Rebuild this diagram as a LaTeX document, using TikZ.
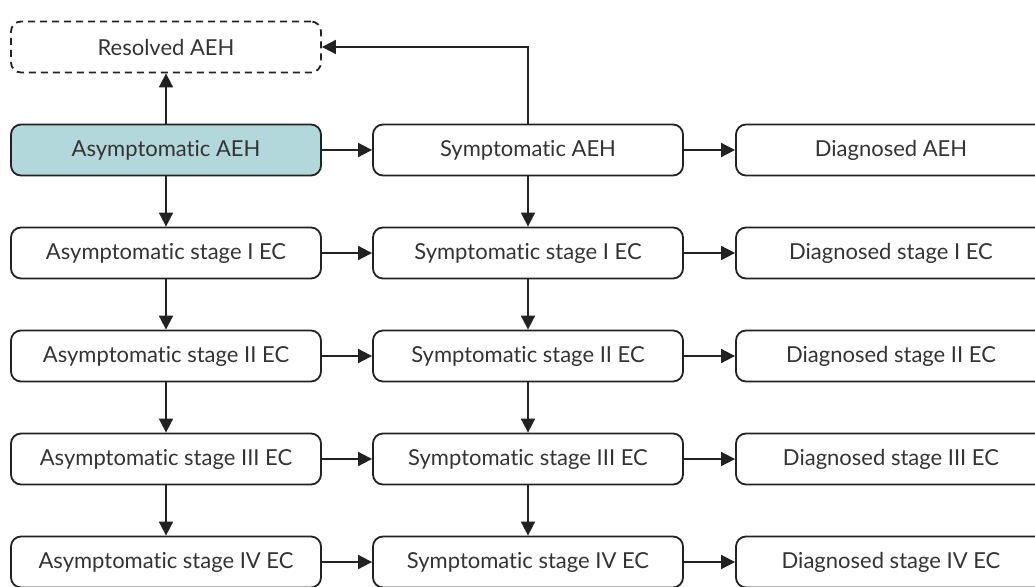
\documentclass[tikz,border=0pt]{standalone}
\usepackage{fontspec}
\setmainfont{Lato}[Ligatures={NoCommon,NoDiscretionary}]
\usetikzlibrary{arrows.meta}
\definecolor{edge}{HTML}{222222}
\definecolor{txt}{HTML}{333333}
\definecolor{teal}{HTML}{B3D8DC}
\begin{document}
\begin{tikzpicture}[x=1pt,y=-1pt,
  box/.style={draw=edge, rounded corners=10pt, line width=1.8pt, minimum width=310pt,
    minimum height=51pt, inner sep=0pt, text=txt, font=\fontsize{22}{26}\selectfont},
  arr/.style={draw=edge, line width=1.8pt, -{Triangle[length=14pt,width=14pt]}}]
\useasboundingbox (0,0) rectangle (1035,586);
\node[box, dash pattern=on 7pt off 5pt] (res) at (166,47) {Resolved AEH};
\node[box, fill=teal] (a0) at (166,150) {Asymptomatic AEH};
\node[box] (a1) at (166,253) {Asymptomatic stage I EC};
\node[box] (a2) at (166,356) {Asymptomatic stage II EC};
\node[box] (a3) at (166,459) {Asymptomatic stage III EC};
\node[box] (a4) at (166,562) {Asymptomatic stage IV EC};
\node[box] (s0) at (528,150) {Symptomatic AEH};
\node[box] (s1) at (528,253) {Symptomatic stage I EC};
\node[box] (s2) at (528,356) {Symptomatic stage II EC};
\node[box] (s3) at (528,459) {Symptomatic stage III EC};
\node[box] (s4) at (528,562) {Symptomatic stage IV EC};
\node[box] (d0) at (891,150) {Diagnosed AEH};
\node[box] (d1) at (891,253) {Diagnosed stage I EC};
\node[box] (d2) at (891,356) {Diagnosed stage II EC};
\node[box] (d3) at (891,459) {Diagnosed stage III EC};
\node[box] (d4) at (891,562) {Diagnosed stage IV EC};
\draw[arr] (a0) -- (res);
\draw[arr] (s0.north) |- (res.east);
\foreach \i in {0,...,4}{
  \draw[arr] (a\i) -- (s\i);
  \draw[arr] (s\i) -- (d\i);
}
\foreach \i/\j in {0/1,1/2,2/3,3/4}{
  \draw[arr] (a\i) -- (a\j);
  \draw[arr] (s\i) -- (s\j);
}
\end{tikzpicture}
\end{document}
